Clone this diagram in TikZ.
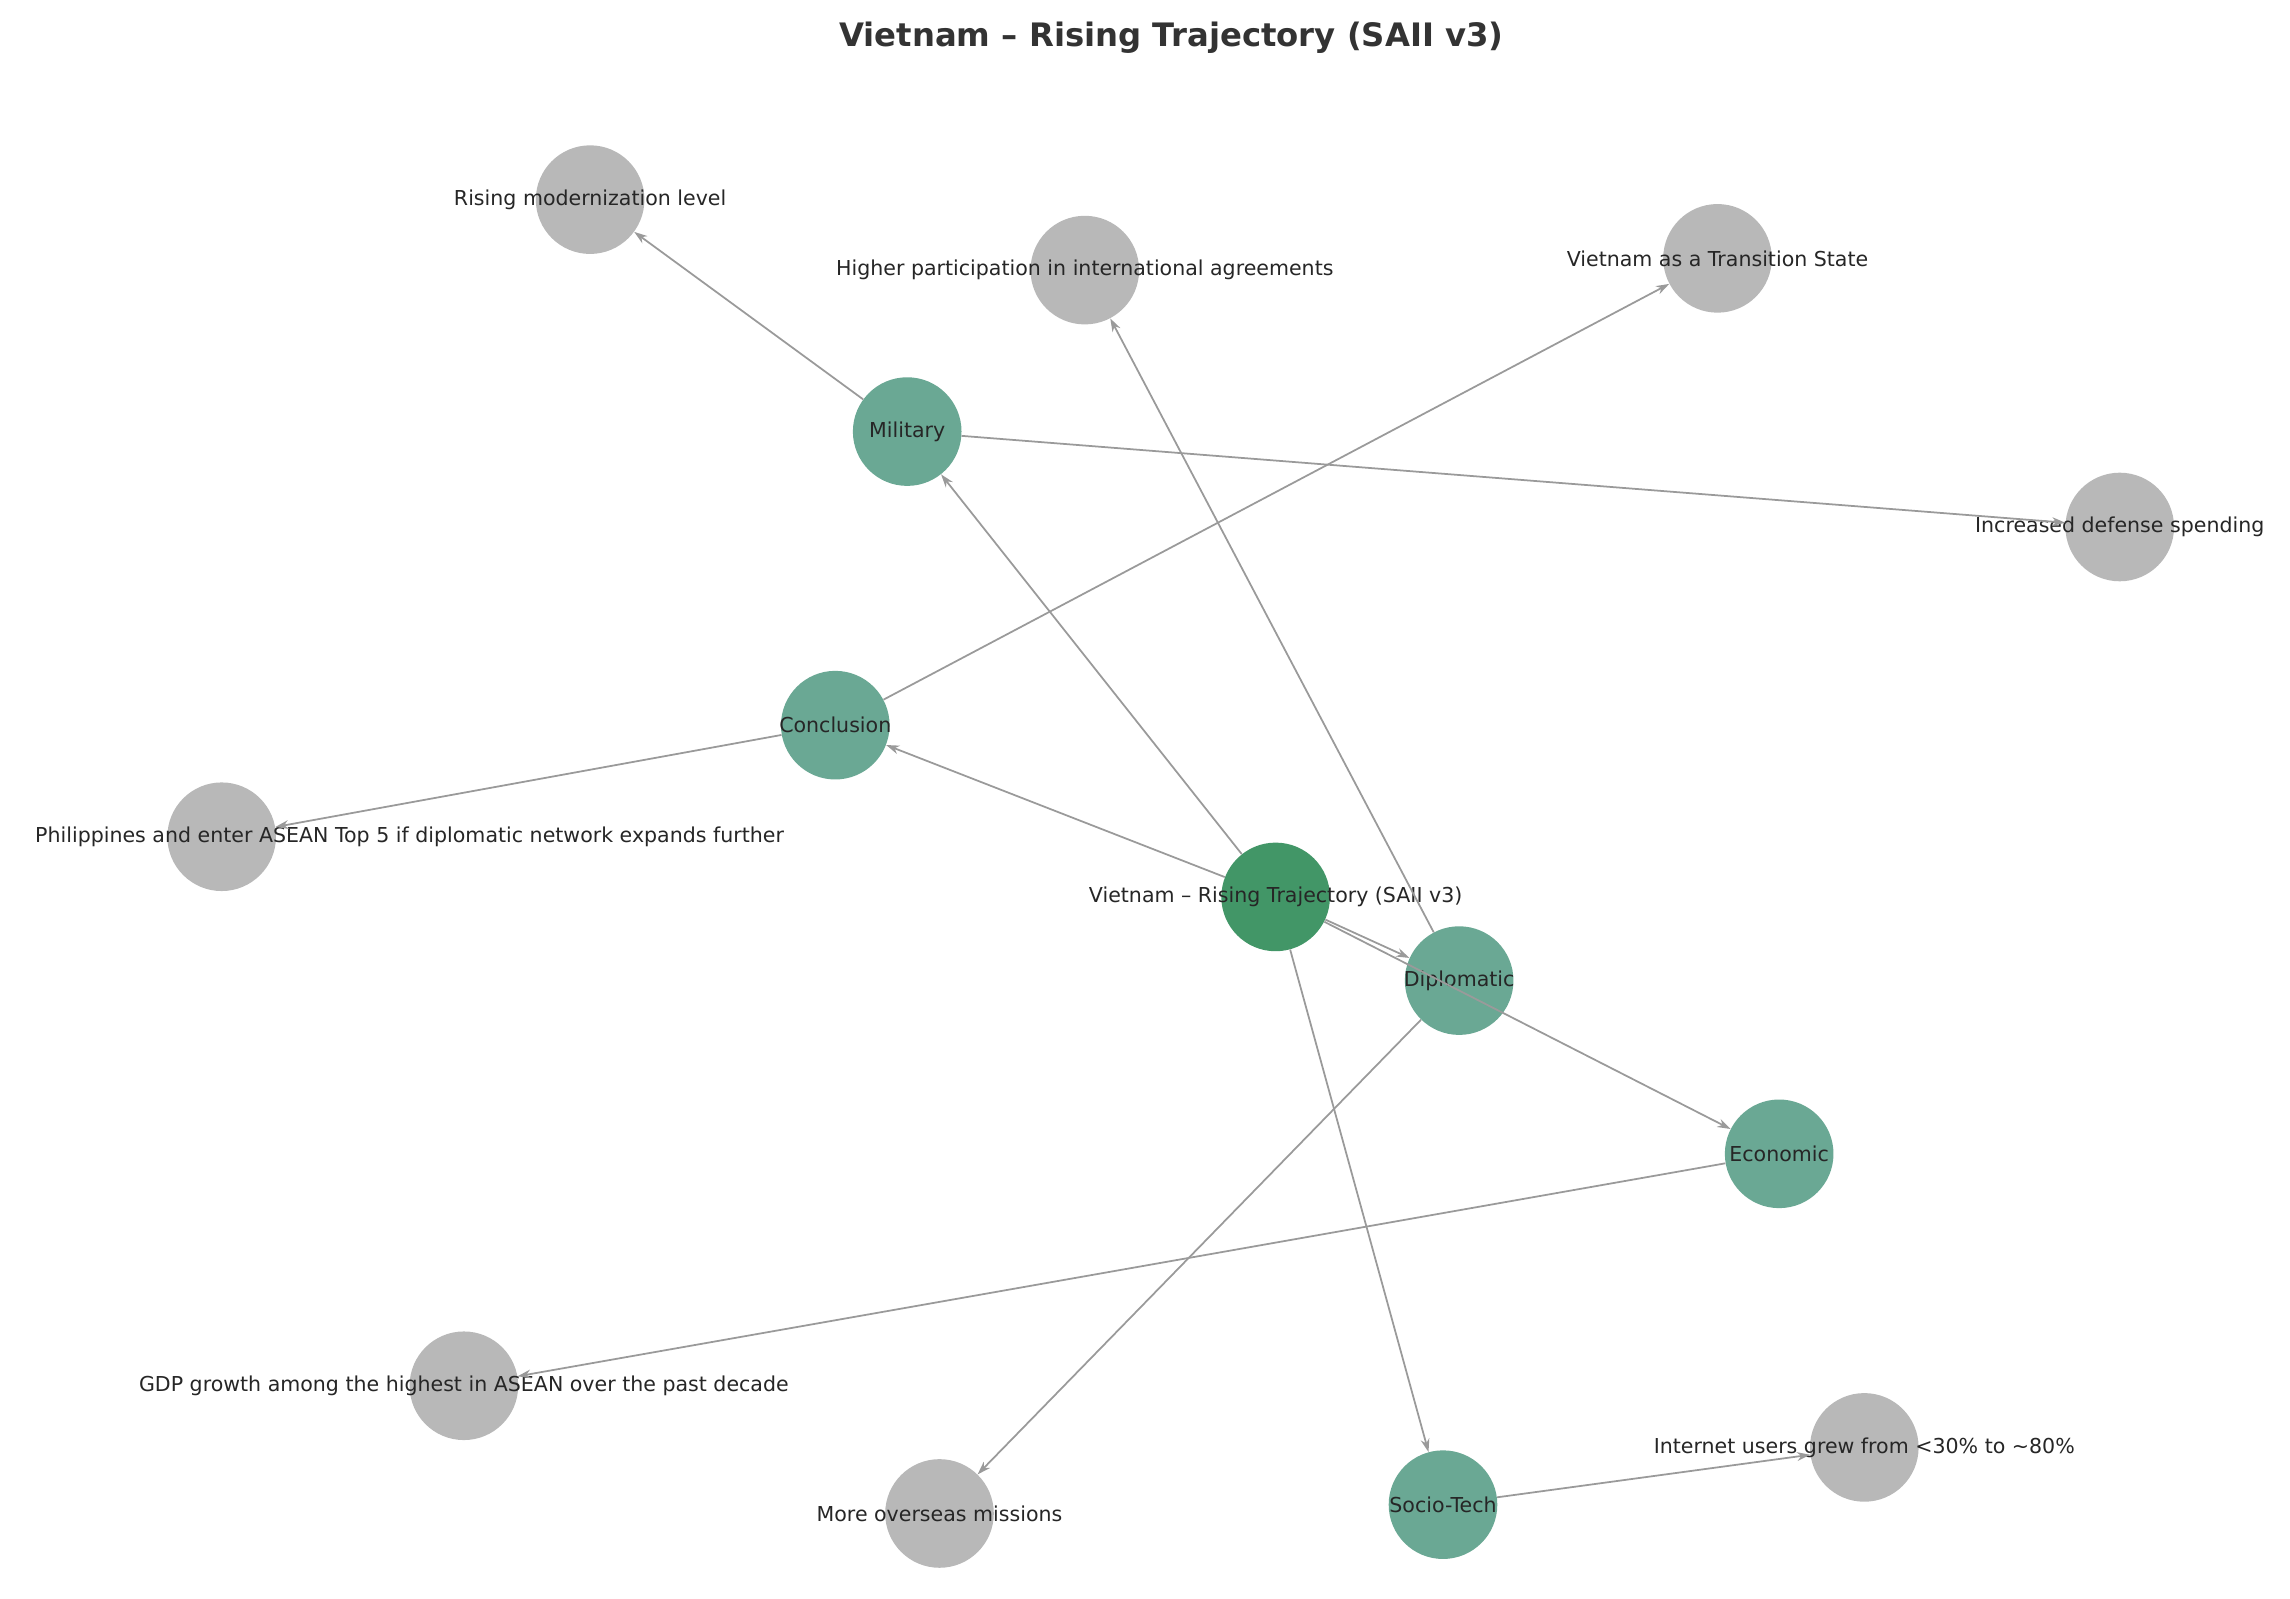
\documentclass[tikz,border=0pt]{standalone}
\usepackage{fontspec}
\setmainfont{DejaVu Sans}
\usetikzlibrary{arrows.meta}
\definecolor{hubgreen}{HTML}{2E8B57}
\definecolor{catgreen}{HTML}{5A9E88}
\definecolor{factgray}{HTML}{B0B0B0}
\definecolor{edgegray}{HTML}{9A9A9A}
\tikzset{
  lbl/.style={font=\fontsize{14}{17}\selectfont, text=black!85},
  base/.style={circle, minimum size=74pt, inner sep=0pt, fill opacity=0.9, text opacity=1,
    label={[lbl]center:#1}},
  hub/.style={base={#1}, fill=hubgreen},
  cat/.style={base={#1}, fill=catgreen},
  fact/.style={base={#1}, fill=factgray},
  link/.style={draw=edgegray, line width=1.2pt, -{Stealth[length=9pt,width=6pt]}}
}
\begin{document}
\begin{tikzpicture}[x=1pt, y=-1pt]
  \useasboundingbox (0,0) rectangle (1560,1089);
  \node[font=\fontsize{22}{26}\selectfont\bfseries, text=black!80] (title) at (798,26) {Vietnam – Rising Trajectory (SAII v3)};

  % category layer
  \node[hub={Vietnam – Rising Trajectory (SAII v3)}] (v) at (869,611) {};
  \node[cat={Military}] (mil) at (618,294) {};
  \node[cat={Conclusion}] (con) at (569,494) {};
  \node[cat={Diplomatic}] (dip) at (994,668) {};
  \node[cat={Economic}] (eco) at (1212,786) {};
  \node[cat={Socio-Tech}] (soc) at (983,1025) {};

  % facts
  \node[fact={Rising modernization level}] (modern) at (402,136) {};
  \node[fact={Higher participation in international agreements}] (agree) at (739,184) {};
  \node[fact={Vietnam as a Transition State}] (trans) at (1170,176) {};
  \node[fact={Increased defense spending}] (defense) at (1444,359) {};
  \node[fact={}] (phil) at (151,570) {};
  \node[lbl] (philtext) at (279,570) {Philippines and enter ASEAN Top 5 if diplomatic network expands further};
  \node[fact={GDP growth among the highest in ASEAN over the past decade}] (gdp) at (316,944) {};
  \node[fact={More overseas missions}] (missions) at (640,1031) {};
  \node[fact={Internet users grew from <30\% to \textasciitilde80\%}] (internet) at (1270,986) {};

  \foreach \a/\b in {v/mil, v/con, v/dip, v/eco, v/soc,
                     mil/modern, mil/defense, dip/agree, dip/missions,
                     eco/gdp, soc/internet, con/trans, con/phil}
    \draw[link] (\a) -- (\b);
\end{tikzpicture}
\end{document}
